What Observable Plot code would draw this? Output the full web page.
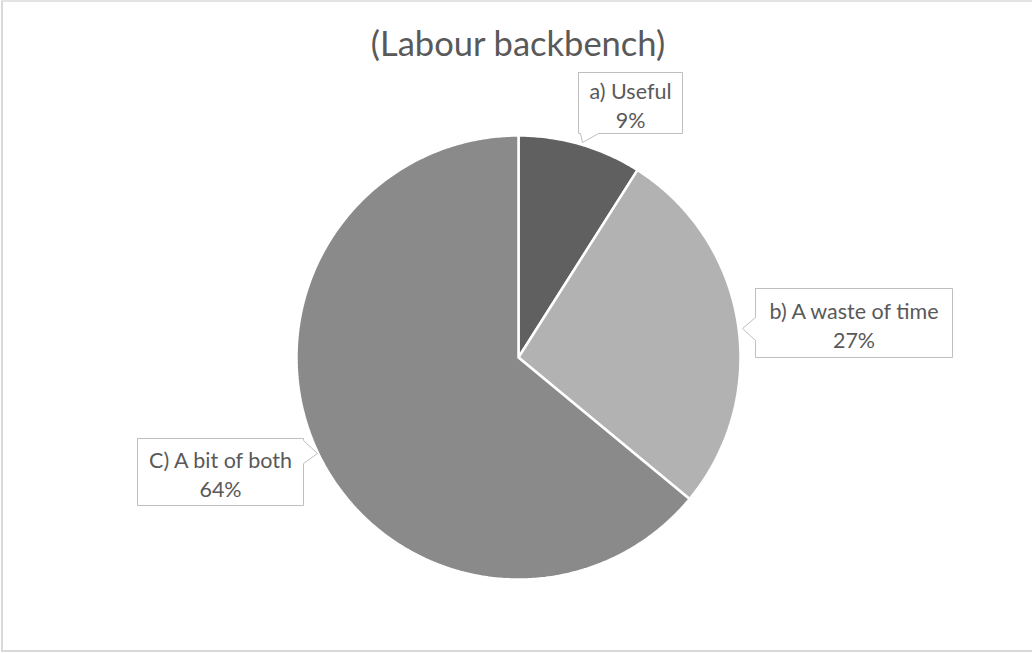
<!DOCTYPE html>
<html>
<head>
<meta charset="utf-8">
<script src="https://cdn.jsdelivr.net/npm/d3@7"></script>
<script src="https://cdn.jsdelivr.net/npm/@observablehq/plot@0.6"></script>
<style>
  html, body { margin: 0; padding: 0; background: #fff; overflow: hidden; }
  #wrap { position: relative; width: 1032px; height: 653px; overflow: hidden; }
  #frame { position: absolute; left: 1px; top: 0px; width: 1200px; height: 648px;
           border-left: 2px solid #d9d9d9; border-top: 2px solid #e3e3e3; border-bottom: 2px solid #d9d9d9; }
  #title { position: absolute; left: 0; width: 1036px; top: 26px; text-align: center;
           font-family: Lato, "Open Sans", sans-serif; font-size: 34.5px; color: #595959; line-height: 1; }
  #chart { position: absolute; left: 0; top: 0; }
</style>
</head>
<body>
<div id="wrap">
  <div id="frame"></div>
  <div id="chart"></div>
  <div id="title">(Labour backbench)</div>
</div>
<script>
// ---- data ----
const categories = ["a) Useful", "b) A waste of time", "C) A bit of both"];
const values = [9, 27, 64];
const percentLabels = ["9%", "27%", "64%"];
const colors = ["#606060", "#b2b2b2", "#8a8a8a"];

// ---- layout (pixels) ----
const W = 1032, H = 653;
const cx = 518, cy = 357, R = 222;
const callouts = [
  {box: [578, 72, 682, 133], tip: [582, 142], side: "bottom", notch: [580, 598]},
  {box: [755, 288, 952, 357], tip: [742, 328], side: "left", notch: [317, 340]},
  {box: [137, 438, 303, 505], tip: [317, 453], side: "right", notch: [440, 463]}
];
const ux = px => (px - cx) / R;
const uy = py => (cy - py) / R;

// pie slices
const arcs = d3.pie().sort(null).startAngle(0).endAngle(2 * Math.PI)(values);
const sliceData = arcs.flatMap((a, i) => {
  const pts = [{i, x: 0, y: 0}];
  const n = Math.max(8, Math.ceil((a.endAngle - a.startAngle) / 0.01));
  for (let k = 0; k <= n; k++) {
    const t = a.startAngle + (a.endAngle - a.startAngle) * k / n;
    pts.push({i, x: Math.sin(t), y: Math.cos(t)});
  }
  pts.push({i, x: 0, y: 0});
  return pts;
});

// callout polygons
function calloutPoly(c, i) {
  const [l, t, r, b] = c.box;
  let p;
  if (c.side === "bottom") {
    p = [[l, t], [r, t], [r, b], [c.notch[1], b], c.tip, [c.notch[0], b], [l, b], [l, t]];
  } else if (c.side === "left") {
    p = [[l, t], [r, t], [r, b], [l, b], [l, c.notch[1]], c.tip, [l, c.notch[0]], [l, t]];
  } else {
    p = [[l, t], [r, t], [r, c.notch[0]], c.tip, [r, c.notch[1]], [r, b], [l, b], [l, t]];
  }
  return p.map(([x, y]) => ({i, x: ux(x), y: uy(y)}));
}
const calloutData = callouts.flatMap(calloutPoly);
const labelData = categories.map((c, i) => ({
  text: c + "\n" + percentLabels[i],
  x: ux((callouts[i].box[0] + callouts[i].box[2]) / 2),
  y: uy((callouts[i].box[1] + callouts[i].box[3]) / 2 + 1)
}));

const marks = [];
arcs.forEach((a, i) => {
  marks.push(Plot.line(sliceData.filter(d => d.i === i), {
    x: "x", y: "y", fill: colors[i], stroke: "#fff", strokeWidth: 2.5, strokeLinejoin: "miter"
  }));
});
callouts.forEach((c, i) => {
  marks.push(Plot.line(calloutData.filter(d => d.i === i), {
    x: "x", y: "y", fill: "#fff", stroke: "#bfbfbf", strokeWidth: 1
  }));
});
marks.push(Plot.text(labelData, {
  x: "x", y: "y", text: "text", fontSize: 21.5, lineHeight: 1.38, fill: "#595959",
  fontFamily: "Lato, 'Open Sans', sans-serif", textAnchor: "middle"
}));

const chart = Plot.plot({
  width: W, height: H,
  marginLeft: cx - R, marginRight: W - (cx + R),
  marginTop: cy - R, marginBottom: H - (cy + R),
  x: {domain: [-1, 1], axis: null},
  y: {domain: [-1, 1], axis: null},
  style: {background: "transparent", overflow: "visible"},
  marks
});
document.getElementById("chart").appendChild(chart);
</script>
</body>
</html>
